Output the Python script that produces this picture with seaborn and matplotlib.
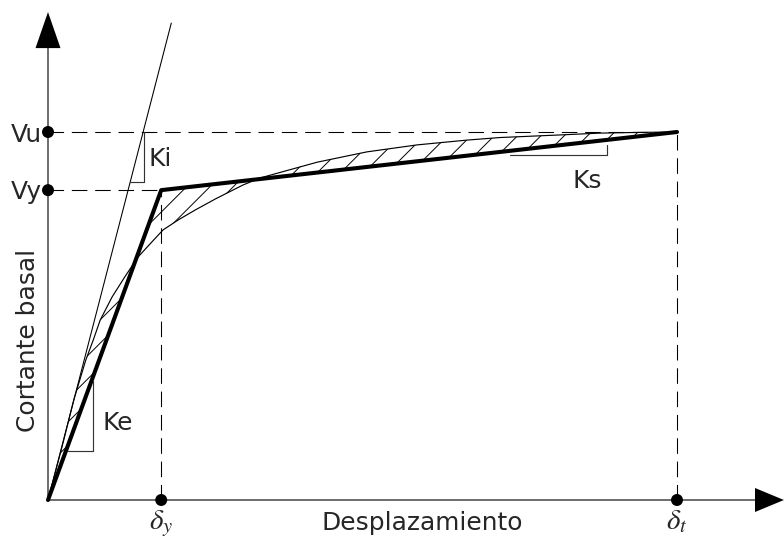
import numpy as np
import matplotlib
matplotlib.use("Agg")
import matplotlib.pyplot as plt
from matplotlib.patches import Polygon
import seaborn as sns

# ---------------- data (displacement, base shear) ----------------
curve_disp = [0, 0.21, 0.41, 0.60, 0.72, 0.83, 1.02, 1.22, 1.43, 1.65, 1.83,
              2.07, 2.34, 2.66, 3.10, 3.37, 4.28, 5.07, 5.87, 6.66, 7.19,
              8.14, 8.78, 9.41, 10.0]
curve_shear = [0, 13.6, 27.2, 38.0, 43.5, 48.9, 55.2, 60.6, 66.0, 70.1, 73.4,
               76.1, 78.8, 81.8, 85.6, 87.5, 91.8, 94.6, 96.5, 97.8, 98.5,
               99.2, 99.7, 99.9, 100.0]
bilinear_disp = [0, 1.80, 10.0]
bilinear_shear = [0, 84.2, 100.0]
ki_disp = [0, 1.96]
ki_shear = [0, 129.6]
delta_y, delta_t = 1.80, 10.0
V_y, V_u = 84.2, 100.0
shear_labels = ["Vu", "Vy"]
disp_labels = [r"$\delta_y$", r"$\delta_t$"]
slope_labels = ["Ki", "Ke", "Ks"]
x_title = "Desplazamiento"
y_title = "Cortante basal"

# ---------------- style ----------------
sns.set_style("white")
plt.rcParams["font.family"] = ["DejaVu Sans"]
plt.rcParams["mathtext.fontset"] = "stix"
plt.rcParams["hatch.linewidth"] = 0.5
plt.rcParams["lines.scale_dashes"] = False

DPI = 140
fig = plt.figure(figsize=(784 / DPI, 538 / DPI), dpi=DPI)
ax = fig.add_axes([0, 0, 1, 1])
PXX, PXY = 62.9, 3.68  # pixels per data unit
ax.set_xlim(-48 / PXX, 736 / PXX)
ax.set_ylim(-38 / PXY, 500 / PXY)
ax.axis("off")

def px(x, y):
    """pixel position (from top-left) -> data coordinates"""
    return (x - 48) / PXX, (500 - y) / PXY

FS = 12.8
AX_COL = "#5c5c5c"
dash = (0, (8.0, 4.0))

# axes with arrowheads
ax.plot([0, 0], [0, 122.8], color=AX_COL, lw=0.9, zorder=1)
ax.plot([0, 11.24], [0, 0], color=AX_COL, lw=0.9, zorder=1)
ax.add_patch(Polygon([[-12.5 / PXX, 122.8], [12.5 / PXX, 122.8], [0, 132.6]],
                     closed=True, color="black", lw=0))
ax.add_patch(Polygon([[11.24, -3.26], [11.24, 3.26], [11.70, 0]],
                     closed=True, color="black", lw=0))

# dashed reference lines
ax.plot([0, delta_t], [V_u, V_u], color="black", lw=0.55, ls=dash)
ax.plot([0, delta_y], [V_y, V_y], color="black", lw=0.55, ls=dash)
ax.plot([delta_y, delta_y], [0, V_y], color="black", lw=0.55, ls=dash)
ax.plot([delta_t, delta_t], [0, V_u], color="black", lw=0.55, ls=dash)

# hatched area between capacity curve and bilinear idealisation
poly_x = np.concatenate([curve_disp, bilinear_disp[::-1]])
poly_y = np.concatenate([curve_shear, bilinear_shear[::-1]])
ax.fill(poly_x, poly_y, facecolor="none", edgecolor="black", hatch="//", lw=0)

# initial stiffness line
sns.lineplot(x=ki_disp, y=ki_shear, ax=ax, color="black", lw=0.55)
# capacity curve
sns.lineplot(x=curve_disp, y=curve_shear, ax=ax, color="black", lw=0.6,
             estimator=None, sort=False)
# bilinear
sns.lineplot(x=bilinear_disp, y=bilinear_shear, ax=ax, color="black", lw=2.1,
             estimator=None, sort=False)

# slope triangles
TRI = "#333333"
ax.plot([1.304, 1.534, 1.534], [86.4, 86.4, 100.0], color=TRI, lw=0.6)
ax.plot([0.32, 0.72, 0.72], [13.3, 13.3, 32.6], color=TRI, lw=0.6)
ax.plot([7.345, 8.887, 8.887], [93.75, 93.75, 96.5], color=TRI, lw=0.6)

# dots on axes
sns.scatterplot(x=[0, 0, delta_y, delta_t], y=[V_u, V_y, 0, 0], ax=ax,
                color="black", s=38, edgecolor="none", zorder=5)

# labels
for lab, (x, y) in zip(shear_labels, [(26, 142), (26, 198.5)]):
    ax.text(*px(x, y), lab, ha="center", va="baseline", fontsize=FS)
for lab, (x, y) in zip(slope_labels, [(148, 166), (102, 430.5), (572, 188)]):
    ax.text(*px(x, y), lab, ha="left", va="baseline", fontsize=FS)
for lab, (x, y) in zip(disp_labels, [(161, 529), (677, 529)]):
    ax.text(*px(x, y), lab, ha="center", va="baseline", fontsize=15)
ax.text(*px(422, 530), x_title, ha="center", va="baseline", fontsize=FS)
ax.text(*px(35, 340), y_title, ha="center", va="baseline", fontsize=FS,
        rotation=90, rotation_mode="anchor")

fig.savefig("out.png", dpi=DPI)
